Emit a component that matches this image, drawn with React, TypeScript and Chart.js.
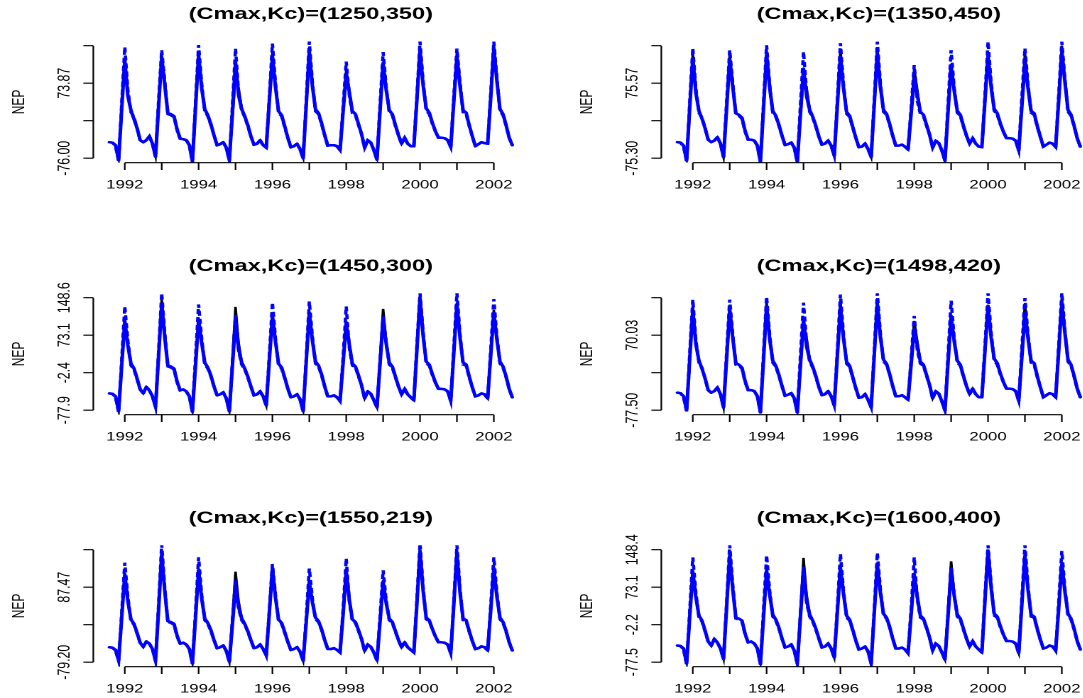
import React, { useEffect, useRef } from "react";
import { Chart, registerables } from "chart.js";

Chart.register(...registerables);

// ---- time axis: monthly, Aug 1991 .. Jul 2002 ----
const START_YEAR = 1991;
const START_MONTH = 8;
const N_MONTHS = 132;
const months: number[] = Array.from({ length: N_MONTHS }, (_, i) => START_YEAR + (START_MONTH - 1 + i) / 12);

const xTicks = [1992, 1993, 1994, 1995, 1996, 1997, 1998, 1999, 2000, 2001, 2002];
const xTickLabels = ["1992", "", "1994", "", "1996", "", "1998", "", "2000", "", "2002"];

const titles = [
  "(Cmax,Kc)=(1250,350)",
  "(Cmax,Kc)=(1350,450)",
  "(Cmax,Kc)=(1450,300)",
  "(Cmax,Kc)=(1498,420)",
  "(Cmax,Kc)=(1550,219)",
  "(Cmax,Kc)=(1600,400)",
];

const yTicks1 = [-76.0, -1.065, 73.87, 148.805];
const yLabels1 = ["-76.00", "", "73.87", ""];
const yTicks2 = [-75.3, 0.135, 75.57, 151.005];
const yLabels2 = ["-75.30", "", "75.57", ""];
const yTicks3 = [-77.9, -2.4, 73.1, 148.6];
const yLabels3 = ["-77.9", "-2.4", "73.1", "148.6"];
const yTicks4 = [-77.5, -3.735, 70.03, 143.795];
const yLabels4 = ["-77.50", "", "70.03", ""];
const yTicks5 = [-79.2, 4.135, 87.47, 170.805];
const yLabels5 = ["-79.20", "", "87.47", ""];
const yTicks6 = [-77.5, -2.2, 73.1, 148.4];
const yLabels6 = ["-77.5", "-2.2", "73.1", "148.4"];

// ---- Panel 1 ----
const black1 = [
  -44, -45, -50, -76, 24,
  124, 50, 20, 2, -16, -40, -44, -40, -32, -47, -72, 30,
  130, 72, 14, 12, 8, -18, -37, -38, -40, -50, -76, 28,
  133, 66, 22, 10, -8, -30, -50, -48, -44, -55, -76, 5,
  85, 64, 25, 8, -10, -32, -49, -47, -40, -50, -54, 40,
  137, 68, 18, 10, -12, -35, -54, -52, -47, -58, -75, 30,
  140, 70, 22, 14, -6, -30, -51, -50, -50, -52, -60, 22,
  100, 60, 18, 12, -8, -28, -55, -40, -45, -60, -76, 18,
  110, 62, 20, 12, -10, -30, -47, -35, -47, -52, -52, 40,
  138, 70, 24, 15, -5, -22, -35, -35, -36, -40, -54, 40,
  137, 72, 20, 15, -10, -32, -52, -48, -44, -46, -46, 45,
  148.8, 80, 22, 12, -10, -35, -50,
];
const blue1 = [
  -44, -45, -50, -80, 22,
  120, 48, 20, 2, -16, -40, -44, -40, -32, -47, -73, 28,
  126, 70, 14, 12, 8, -18, -37, -38, -40, -50, -83, 25,
  130, 64, 22, 10, -8, -30, -50, -48, -44, -55, -80, 15,
  116, 50, 22, 8, -10, -32, -49, -47, -40, -50, -55, 38,
  127, 66, 18, 10, -12, -35, -54, -52, -47, -58, -76, 30,
  137, 68, 22, 14, -6, -30, -51, -50, -50, -52, -60, 18,
  92, 56, 18, 12, -8, -28, -55, -40, -45, -60, -79, 18,
  114, 60, 20, 12, -10, -30, -47, -35, -47, -52, -52, 42,
  140, 70, 24, 15, -5, -22, -35, -35, -36, -40, -54, 38,
  124, 68, 20, 15, -10, -32, -52, -48, -44, -46, -47, 45,
  144, 78, 22, 12, -10, -35, -50,
];
const dashed1 = [
  -44, -45, -52, -82, 35,
  146, 60, 16, 6, -16, -40, -44, -40, -32, -47, -73, 40,
  140, 78, 12, 10, 6, -20, -37, -38, -40, -50, -83, 35,
  150, 72, 18, 8, -10, -30, -50, -48, -44, -55, -80, 30,
  143, 56, 20, 6, -12, -32, -49, -47, -40, -50, -55, 45,
  153, 74, 14, 8, -14, -35, -54, -52, -47, -58, -76, 40,
  157, 76, 18, 12, -8, -30, -51, -50, -50, -52, -60, 28,
  117, 50, 14, 10, -10, -28, -55, -40, -45, -60, -79, 30,
  136, 66, 16, 10, -12, -30, -47, -35, -47, -52, -52, 50,
  157, 78, 20, 12, -7, -22, -35, -35, -36, -40, -54, 48,
  143, 76, 16, 12, -12, -32, -52, -48, -44, -46, -47, 55,
  157, 84, 18, 10, -12, -35, -50,
];

// ---- Panel 2 ----
const black2 = [
  -43, -44, -50, -75.3, 28,
  135, 60, 20, 4, -15, -38, -43, -40, -33, -46, -73, 30,
  135, 74, 15, 12, 6, -20, -38, -38, -40, -50, -75.3, 30,
  139, 70, 20, 10, -8, -30, -49, -47, -44, -54, -75.3, 8,
  90, 66, 24, 8, -10, -32, -48, -46, -40, -50, -70, 36,
  142, 70, 18, 10, -12, -34, -53, -52, -46, -57, -73, 32,
  146, 72, 22, 14, -6, -30, -50, -50, -48, -52, -58, 24,
  105, 62, 18, 12, -8, -28, -54, -40, -45, -60, -75.3, 18,
  108, 62, 20, 12, -10, -30, -46, -35, -46, -52, -53, 36,
  125, 70, 24, 15, -5, -22, -35, -35, -36, -40, -60, 36,
  136, 72, 20, 15, -10, -32, -52, -48, -44, -46, -53, 45,
  151, 82, 22, 12, -10, -35, -52,
];
const blue2 = [
  -43, -44, -50, -80, 25,
  126, 56, 20, 4, -15, -38, -43, -40, -33, -46, -73, 25,
  122, 68, 15, 12, 6, -20, -38, -38, -40, -50, -83, 25,
  132, 66, 20, 10, -8, -30, -49, -47, -44, -54, -83, 12,
  105, 50, 22, 8, -10, -32, -48, -46, -40, -50, -70, 30,
  129, 66, 18, 10, -12, -34, -53, -52, -46, -57, -73, 32,
  136, 68, 22, 14, -6, -30, -50, -50, -48, -52, -58, 14,
  85, 52, 18, 12, -8, -28, -54, -40, -45, -60, -80, 18,
  112, 60, 20, 12, -10, -30, -46, -35, -46, -52, -53, 40,
  132, 68, 24, 15, -5, -22, -35, -35, -36, -40, -60, 28,
  116, 66, 20, 15, -10, -32, -52, -48, -44, -46, -53, 42,
  136, 78, 22, 12, -10, -35, -52,
];
const dashed2 = [
  -43, -44, -52, -82, 38,
  146, 64, 16, 6, -15, -38, -43, -40, -33, -46, -73, 38,
  142, 76, 12, 10, 4, -22, -38, -38, -40, -50, -83, 36,
  152, 72, 16, 8, -10, -30, -49, -47, -44, -54, -83, 32,
  139, 58, 18, 6, -12, -32, -48, -46, -40, -50, -70, 42,
  156, 74, 14, 8, -14, -34, -53, -52, -46, -57, -73, 42,
  159, 76, 18, 12, -8, -30, -50, -50, -48, -52, -58, 26,
  112, 40, 14, 10, -10, -28, -54, -40, -45, -60, -80, 32,
  142, 66, 16, 10, -12, -30, -46, -35, -46, -52, -53, 50,
  159, 78, 20, 12, -7, -22, -35, -35, -36, -40, -60, 46,
  146, 74, 16, 12, -12, -32, -52, -48, -44, -46, -53, 55,
  159, 84, 18, 10, -12, -35, -52,
];

// ---- Panel 3 ----
const black3 = [
  -44, -45, -50, -77.9, 15,
  106, 55, 16, 6, -14, -36, -44, -31, -38, -50, -71, 35,
  145, 72, 12, 10, 6, -20, -38, -36, -40, -50, -77.9, 15,
  108, 60, 18, 8, -8, -30, -48, -46, -42, -54, -77.9, 25,
  130, 58, 20, 6, -10, -30, -48, -46, -40, -50, -68, 25,
  118, 62, 16, 8, -12, -34, -52, -50, -46, -56, -77.9, 22,
  121, 64, 20, 12, -6, -30, -50, -50, -48, -52, -59, 20,
  101, 56, 16, 10, -8, -28, -54, -40, -45, -58, -72, 25,
  126, 60, 18, 10, -10, -30, -46, -35, -46, -52, -58, 45,
  148.6, 72, 20, 14, -5, -22, -35, -35, -36, -40, -59, 40,
  138, 70, 18, 14, -10, -32, -50, -48, -44, -46, -54, 35,
  124, 66, 20, 10, -10, -35, -52,
];
const blue3 = [
  -44, -45, -50, -80, 12,
  101, 52, 16, 6, -14, -36, -44, -31, -38, -50, -71, 32,
  135, 68, 12, 10, 6, -20, -38, -36, -40, -50, -81, 12,
  104, 58, 18, 8, -8, -30, -48, -46, -42, -54, -80, 12,
  101, 46, 18, 6, -10, -30, -48, -46, -40, -50, -68, 22,
  111, 60, 16, 8, -12, -34, -52, -50, -46, -56, -80, 20,
  118, 62, 20, 12, -6, -30, -50, -50, -48, -52, -59, 18,
  97, 54, 16, 10, -8, -28, -54, -40, -45, -58, -72, 15,
  104, 56, 18, 10, -10, -30, -46, -35, -46, -52, -58, 45,
  148, 72, 20, 14, -5, -22, -35, -35, -36, -40, -59, 38,
  135, 68, 18, 14, -10, -32, -50, -48, -44, -46, -54, 32,
  118, 64, 20, 10, -10, -35, -52,
];
const dashed3 = [
  -44, -45, -52, -82, 25,
  131, 62, 12, 4, -16, -36, -44, -31, -38, -50, -72, 42,
  158, 78, 10, 8, 4, -22, -38, -36, -40, -50, -82, 28,
  135, 66, 14, 6, -10, -30, -48, -46, -42, -54, -81, 18,
  114, 42, 14, 4, -12, -30, -48, -46, -40, -50, -69, 32,
  139, 66, 12, 6, -14, -34, -52, -50, -46, -56, -81, 28,
  141, 70, 16, 10, -8, -30, -50, -50, -48, -52, -60, 30,
  131, 48, 12, 8, -10, -28, -54, -40, -45, -58, -73, 22,
  111, 58, 14, 8, -12, -30, -46, -35, -46, -52, -58, 55,
  158, 80, 16, 12, -7, -22, -35, -35, -36, -40, -60, 50,
  158, 76, 14, 12, -12, -32, -50, -48, -44, -46, -55, 45,
  146, 70, 16, 8, -12, -35, -52,
];

// ---- Panel 4 ----
const black4 = [
  -43, -44, -50, -77.5, 25,
  128, 56, 20, 4, -15, -38, -43, -40, -33, -46, -72, 28,
  130, 70, 15, 12, 6, -20, -38, -38, -40, -50, -77.5, 28,
  134, 66, 20, 10, -8, -30, -49, -47, -44, -54, -77.5, 6,
  90, 64, 24, 8, -10, -32, -48, -46, -40, -50, -68, 34,
  136, 68, 18, 10, -12, -34, -53, -52, -46, -57, -72, 30,
  140, 70, 22, 14, -6, -30, -50, -50, -48, -52, -57, 22,
  98, 58, 18, 12, -8, -28, -54, -40, -45, -60, -77.5, 16,
  108, 60, 20, 12, -10, -30, -46, -35, -46, -52, -52, 36,
  128, 68, 24, 15, -5, -22, -35, -35, -36, -40, -59, 36,
  132, 70, 20, 15, -10, -32, -52, -48, -44, -46, -52, 45,
  143.8, 78, 22, 12, -10, -35, -52,
];
const blue4 = [
  -43, -44, -50, -78, 22,
  120, 52, 20, 4, -15, -38, -43, -40, -33, -46, -72, 24,
  118, 64, 15, 12, 6, -20, -38, -38, -40, -50, -82, 22,
  128, 62, 20, 10, -8, -30, -49, -47, -44, -54, -82, 10,
  100, 48, 22, 8, -10, -32, -48, -46, -40, -50, -68, 28,
  125, 64, 18, 10, -12, -34, -53, -52, -46, -57, -72, 30,
  132, 66, 22, 14, -6, -30, -50, -50, -48, -52, -57, 12,
  82, 50, 18, 12, -8, -28, -54, -40, -45, -60, -78, 16,
  108, 58, 20, 12, -10, -30, -46, -35, -46, -52, -52, 38,
  128, 66, 24, 15, -5, -22, -35, -35, -36, -40, -59, 26,
  112, 64, 20, 15, -10, -32, -52, -48, -44, -46, -52, 40,
  132, 74, 22, 12, -10, -35, -52,
];
const dashed4 = [
  -43, -44, -52, -80, 35,
  140, 60, 16, 6, -15, -38, -43, -40, -33, -46, -72, 36,
  140, 72, 12, 10, 4, -22, -38, -38, -40, -50, -82, 34,
  146, 70, 16, 8, -10, -30, -49, -47, -44, -54, -82, 30,
  134, 56, 18, 6, -12, -32, -48, -46, -40, -50, -68, 40,
  150, 72, 14, 8, -14, -34, -53, -52, -46, -57, -72, 40,
  153, 74, 18, 12, -8, -30, -50, -50, -48, -52, -57, 24,
  108, 40, 14, 10, -10, -28, -54, -40, -45, -60, -78, 30,
  138, 64, 16, 10, -12, -30, -46, -35, -46, -52, -52, 48,
  153, 76, 20, 12, -7, -22, -35, -35, -36, -40, -59, 44,
  143, 72, 16, 12, -12, -32, -52, -48, -44, -46, -52, 52,
  154, 80, 18, 10, -12, -35, -52,
];

// ---- Panel 5 ----
const black5 = [
  -46, -47, -52, -74, 22,
  119, 58, 16, 6, -14, -36, -45, -33, -38, -50, -76, 40,
  166, 80, 12, 10, 6, -20, -38, -36, -40, -50, -79.2, 22,
  129, 64, 18, 8, -8, -30, -48, -46, -42, -54, -78, 20,
  122, 56, 20, 6, -10, -30, -48, -46, -40, -50, -64, 30,
  133, 66, 16, 8, -12, -34, -52, -50, -46, -56, -76, 12,
  103, 56, 20, 12, -6, -30, -50, -50, -48, -52, -57, 30,
  129, 62, 16, 10, -8, -28, -54, -40, -45, -58, -74, 12,
  103, 54, 18, 10, -10, -30, -46, -35, -46, -52, -57, 55,
  170.8, 80, 20, 14, -5, -22, -35, -35, -36, -40, -59, 52,
  168, 78, 18, 14, -10, -32, -50, -48, -44, -46, -53, 38,
  133, 68, 20, 10, -10, -35, -53,
];
const blue5 = [
  -46, -47, -52, -75, 20,
  116, 56, 16, 6, -14, -36, -45, -33, -38, -50, -76, 38,
  160, 78, 12, 10, 6, -20, -38, -36, -40, -50, -82, 20,
  125, 62, 18, 8, -8, -30, -48, -46, -42, -54, -78, 5,
  87, 44, 18, 6, -10, -30, -48, -46, -40, -50, -64, 30,
  129, 64, 16, 8, -12, -34, -52, -50, -46, -56, -76, 10,
  99, 54, 20, 12, -6, -30, -50, -50, -48, -52, -57, 28,
  122, 60, 16, 10, -8, -28, -54, -40, -45, -58, -75, 10,
  99, 52, 18, 10, -10, -30, -46, -35, -46, -52, -57, 52,
  168, 80, 20, 14, -5, -22, -35, -35, -36, -40, -59, 50,
  162, 76, 18, 14, -10, -32, -50, -48, -44, -46, -53, 36,
  129, 66, 20, 10, -10, -35, -53,
];
const dashed5 = [
  -46, -47, -54, -77, 32,
  142, 66, 12, 4, -16, -36, -45, -33, -38, -50, -77, 50,
  183, 86, 10, 8, 4, -22, -38, -36, -40, -50, -83, 32,
  154, 70, 14, 6, -10, -30, -48, -46, -42, -54, -79, 14,
  103, 40, 14, 4, -12, -30, -48, -46, -40, -50, -65, 35,
  139, 70, 12, 6, -14, -34, -52, -50, -46, -56, -77, 22,
  129, 62, 16, 10, -8, -30, -50, -50, -48, -52, -58, 40,
  151, 56, 12, 8, -10, -28, -54, -40, -45, -58, -76, 22,
  125, 58, 14, 8, -12, -30, -46, -35, -46, -52, -58, 62,
  185, 88, 16, 12, -7, -22, -35, -35, -36, -40, -60, 58,
  181, 84, 14, 12, -12, -32, -50, -48, -44, -46, -54, 48,
  154, 74, 16, 8, -12, -35, -53,
];

// ---- Panel 6 ----
const black6 = [
  -44, -45, -50, -77.5, 16,
  108, 56, 16, 6, -14, -36, -44, -31, -38, -50, -71, 36,
  145, 72, 12, 10, 6, -20, -38, -36, -40, -50, -77.5, 16,
  110, 60, 18, 8, -8, -30, -48, -46, -42, -54, -77.5, 26,
  132, 58, 20, 6, -10, -30, -48, -46, -40, -50, -68, 25,
  118, 62, 16, 8, -12, -34, -52, -50, -46, -56, -77.5, 22,
  122, 64, 20, 12, -6, -30, -50, -50, -48, -52, -59, 20,
  102, 56, 16, 10, -8, -28, -54, -40, -45, -58, -72, 25,
  125, 60, 18, 10, -10, -30, -46, -35, -46, -52, -58, 45,
  148.4, 72, 20, 14, -5, -22, -35, -35, -36, -40, -59, 40,
  138, 70, 18, 14, -10, -32, -50, -48, -44, -46, -54, 35,
  124, 66, 20, 10, -10, -35, -52,
];
const blue6 = [
  -44, -45, -50, -80, 13,
  103, 53, 16, 6, -14, -36, -44, -31, -38, -50, -71, 33,
  136, 68, 12, 10, 6, -20, -38, -36, -40, -50, -81, 13,
  106, 58, 18, 8, -8, -30, -48, -46, -42, -54, -80, 13,
  104, 47, 18, 6, -10, -30, -48, -46, -40, -50, -68, 22,
  112, 60, 16, 8, -12, -34, -52, -50, -46, -56, -80, 20,
  119, 62, 20, 12, -6, -30, -50, -50, -48, -52, -59, 18,
  98, 54, 16, 10, -8, -28, -54, -40, -45, -58, -72, 15,
  106, 56, 18, 10, -10, -30, -46, -35, -46, -52, -58, 45,
  146, 72, 20, 14, -5, -22, -35, -35, -36, -40, -59, 38,
  136, 68, 18, 14, -10, -32, -50, -48, -44, -46, -54, 32,
  119, 64, 20, 10, -10, -35, -52,
];
const dashed6 = [
  -44, -45, -52, -82, 26,
  133, 62, 12, 4, -16, -36, -44, -31, -38, -50, -72, 42,
  158, 78, 10, 8, 4, -22, -38, -36, -40, -50, -82, 28,
  137, 66, 14, 6, -10, -30, -48, -46, -42, -54, -81, 18,
  116, 42, 14, 4, -12, -30, -48, -46, -40, -50, -69, 32,
  140, 66, 12, 6, -14, -34, -52, -50, -46, -56, -81, 28,
  142, 70, 16, 10, -8, -30, -50, -50, -48, -52, -60, 30,
  133, 48, 12, 8, -10, -28, -54, -40, -45, -58, -73, 22,
  113, 58, 14, 8, -12, -30, -46, -35, -46, -52, -58, 55,
  158, 80, 16, 12, -7, -22, -35, -35, -36, -40, -60, 50,
  158, 76, 14, 12, -12, -32, -50, -48, -44, -46, -55, 45,
  146, 70, 16, 8, -12, -35, -52,
];

const PANELS = [
  { title: titles[0], ticks: yTicks1, labels: yLabels1, black: black1, dashed: dashed1, blue: blue1 },
  { title: titles[1], ticks: yTicks2, labels: yLabels2, black: black2, dashed: dashed2, blue: blue2 },
  { title: titles[2], ticks: yTicks3, labels: yLabels3, black: black3, dashed: dashed3, blue: blue3 },
  { title: titles[3], ticks: yTicks4, labels: yLabels4, black: black4, dashed: dashed4, blue: blue4 },
  { title: titles[4], ticks: yTicks5, labels: yLabels5, black: black5, dashed: dashed5, blue: blue5 },
  { title: titles[5], ticks: yTicks6, labels: yLabels6, black: black6, dashed: dashed6, blue: blue6 },
];

// ---- layout (the reference is horizontally stretched) ----
const CELL_W = 568; // page px
const CELL_H = 252;
const ROW_STEP = 252.2;
const INNER_W = 400; // canvas logical width
const FONT = '"Liberation Sans", Arial, Helvetica, sans-serif';

const axesPlugin = {
  id: "rAxes",
  afterDraw(chart: any, _args: any, opts: any) {
    const p = opts.panel;
    const ctx = chart.ctx;
    const { left, right, top, bottom } = chart.chartArea;
    const xs = chart.scales.x;
    const ys = chart.scales.y;
    ctx.save();
    ctx.strokeStyle = "#000";
    ctx.fillStyle = "#000";
    ctx.lineWidth = 1.1;
    // y axis
    const yb = ys.getPixelForValue(p.ticks[0]);
    const yt = ys.getPixelForValue(p.ticks[p.ticks.length - 1]);
    ctx.beginPath();
    ctx.moveTo(left, yb);
    ctx.lineTo(left, yt);
    for (const t of p.ticks) {
      const y = ys.getPixelForValue(t);
      ctx.moveTo(left, y);
      ctx.lineTo(left - 7, y);
    }
    // x axis
    const x0 = xs.getPixelForValue(xTicks[0]);
    const x1 = xs.getPixelForValue(xTicks[xTicks.length - 1]);
    ctx.moveTo(x0, bottom);
    ctx.lineTo(x1, bottom);
    for (const t of xTicks) {
      const x = xs.getPixelForValue(t);
      ctx.moveTo(x, bottom);
      ctx.lineTo(x, bottom + 7.3);
    }
    ctx.stroke();

    ctx.font = `11.8px ${FONT}`;
    ctx.textAlign = "center";
    ctx.textBaseline = "alphabetic";
    xTicks.forEach((t, i) => {
      if (!xTickLabels[i]) return;
      ctx.fillText(xTickLabels[i], xs.getPixelForValue(t), bottom + 25.8);
    });
    ctx.font = `12.3px ${FONT}`;
    p.ticks.forEach((t: number, i: number) => {
      const lab = p.labels[i];
      if (!lab) return;
      ctx.save();
      ctx.translate(left - 16.8, ys.getPixelForValue(t));
      ctx.rotate(-Math.PI / 2);
      ctx.fillText(lab, 0, 0);
      ctx.restore();
    });
    // ylab
    ctx.font = `12px ${FONT}`;
    ctx.save();
    ctx.translate(17, (top + bottom) / 2);
    ctx.rotate(-Math.PI / 2);
    ctx.fillText("NEP", 0, 0);
    ctx.restore();
    // title
    ctx.font = `bold 16.6px ${FONT}`;
    ctx.fillText(p.title, (left + right) / 2, 18.8);
    ctx.restore();
  },
};

function Panel({ idx }: { idx: number }) {
  const ref = useRef<HTMLCanvasElement | null>(null);
  useEffect(() => {
    const p = PANELS[idx];
    const t0 = months[0];
    const t1 = months[months.length - 1];
    const xPad = 0.04 * (t1 - t0);
    const y0 = p.ticks[0];
    const y1 = p.ticks[p.ticks.length - 1];
    const yPad = 0.04 * (y1 - y0);
    const pts = (arr: number[]) => arr.map((v, i) => ({ x: months[i], y: v }));
    const chart = new Chart(ref.current as HTMLCanvasElement, {
      type: "line",
      data: {
        datasets: [
          { data: pts(p.blue), borderColor: "#0000FF", borderWidth: 2.5, pointRadius: 0, tension: 0, borderCapStyle: "round", borderJoinStyle: "round" },
          { data: pts(p.dashed), borderColor: "#0000FF", borderWidth: 2.3, borderDash: [5, 3], pointRadius: 0, tension: 0 },
          { data: pts(p.black), borderColor: "#000000", borderWidth: 1.8, pointRadius: 0, tension: 0 },
        ],
      },
      options: {
        responsive: false,
        animation: false,
        devicePixelRatio: 2,
        layout: { padding: { left: 65.7, right: 27.9, top: 41.2, bottom: 89.3 } },
        scales: {
          x: { type: "linear", min: t0 - xPad, max: t1 + xPad, display: false },
          y: { type: "linear", min: y0 - yPad, max: y1 + yPad, display: false },
        },
        plugins: {
          legend: { display: false },
          tooltip: { enabled: false },
          rAxes: { panel: p },
        } as any,
        events: [],
      },
      plugins: [axesPlugin],
    } as any);
    return () => chart.destroy();
  }, [idx]);
  const col = idx % 2;
  const row = Math.floor(idx / 2);
  return (
    <div style={{ position: "absolute", left: col * CELL_W, top: row * ROW_STEP, width: CELL_W, height: CELL_H }}>
      <canvas
        ref={ref}
        width={INNER_W}
        height={CELL_H}
        style={{ width: `${CELL_W}px`, height: `${CELL_H}px`, display: "block" }}
      />
    </div>
  );
}

export default function App() {
  return (
    <div
      style={{
        position: "fixed",
        left: 0,
        top: 0,
        width: 1083,
        height: 698,
        overflow: "hidden",
        background: "#fff",
      }}
    >
      {PANELS.map((_, i) => (
        <Panel key={i} idx={i} />
      ))}
    </div>
  );
}
